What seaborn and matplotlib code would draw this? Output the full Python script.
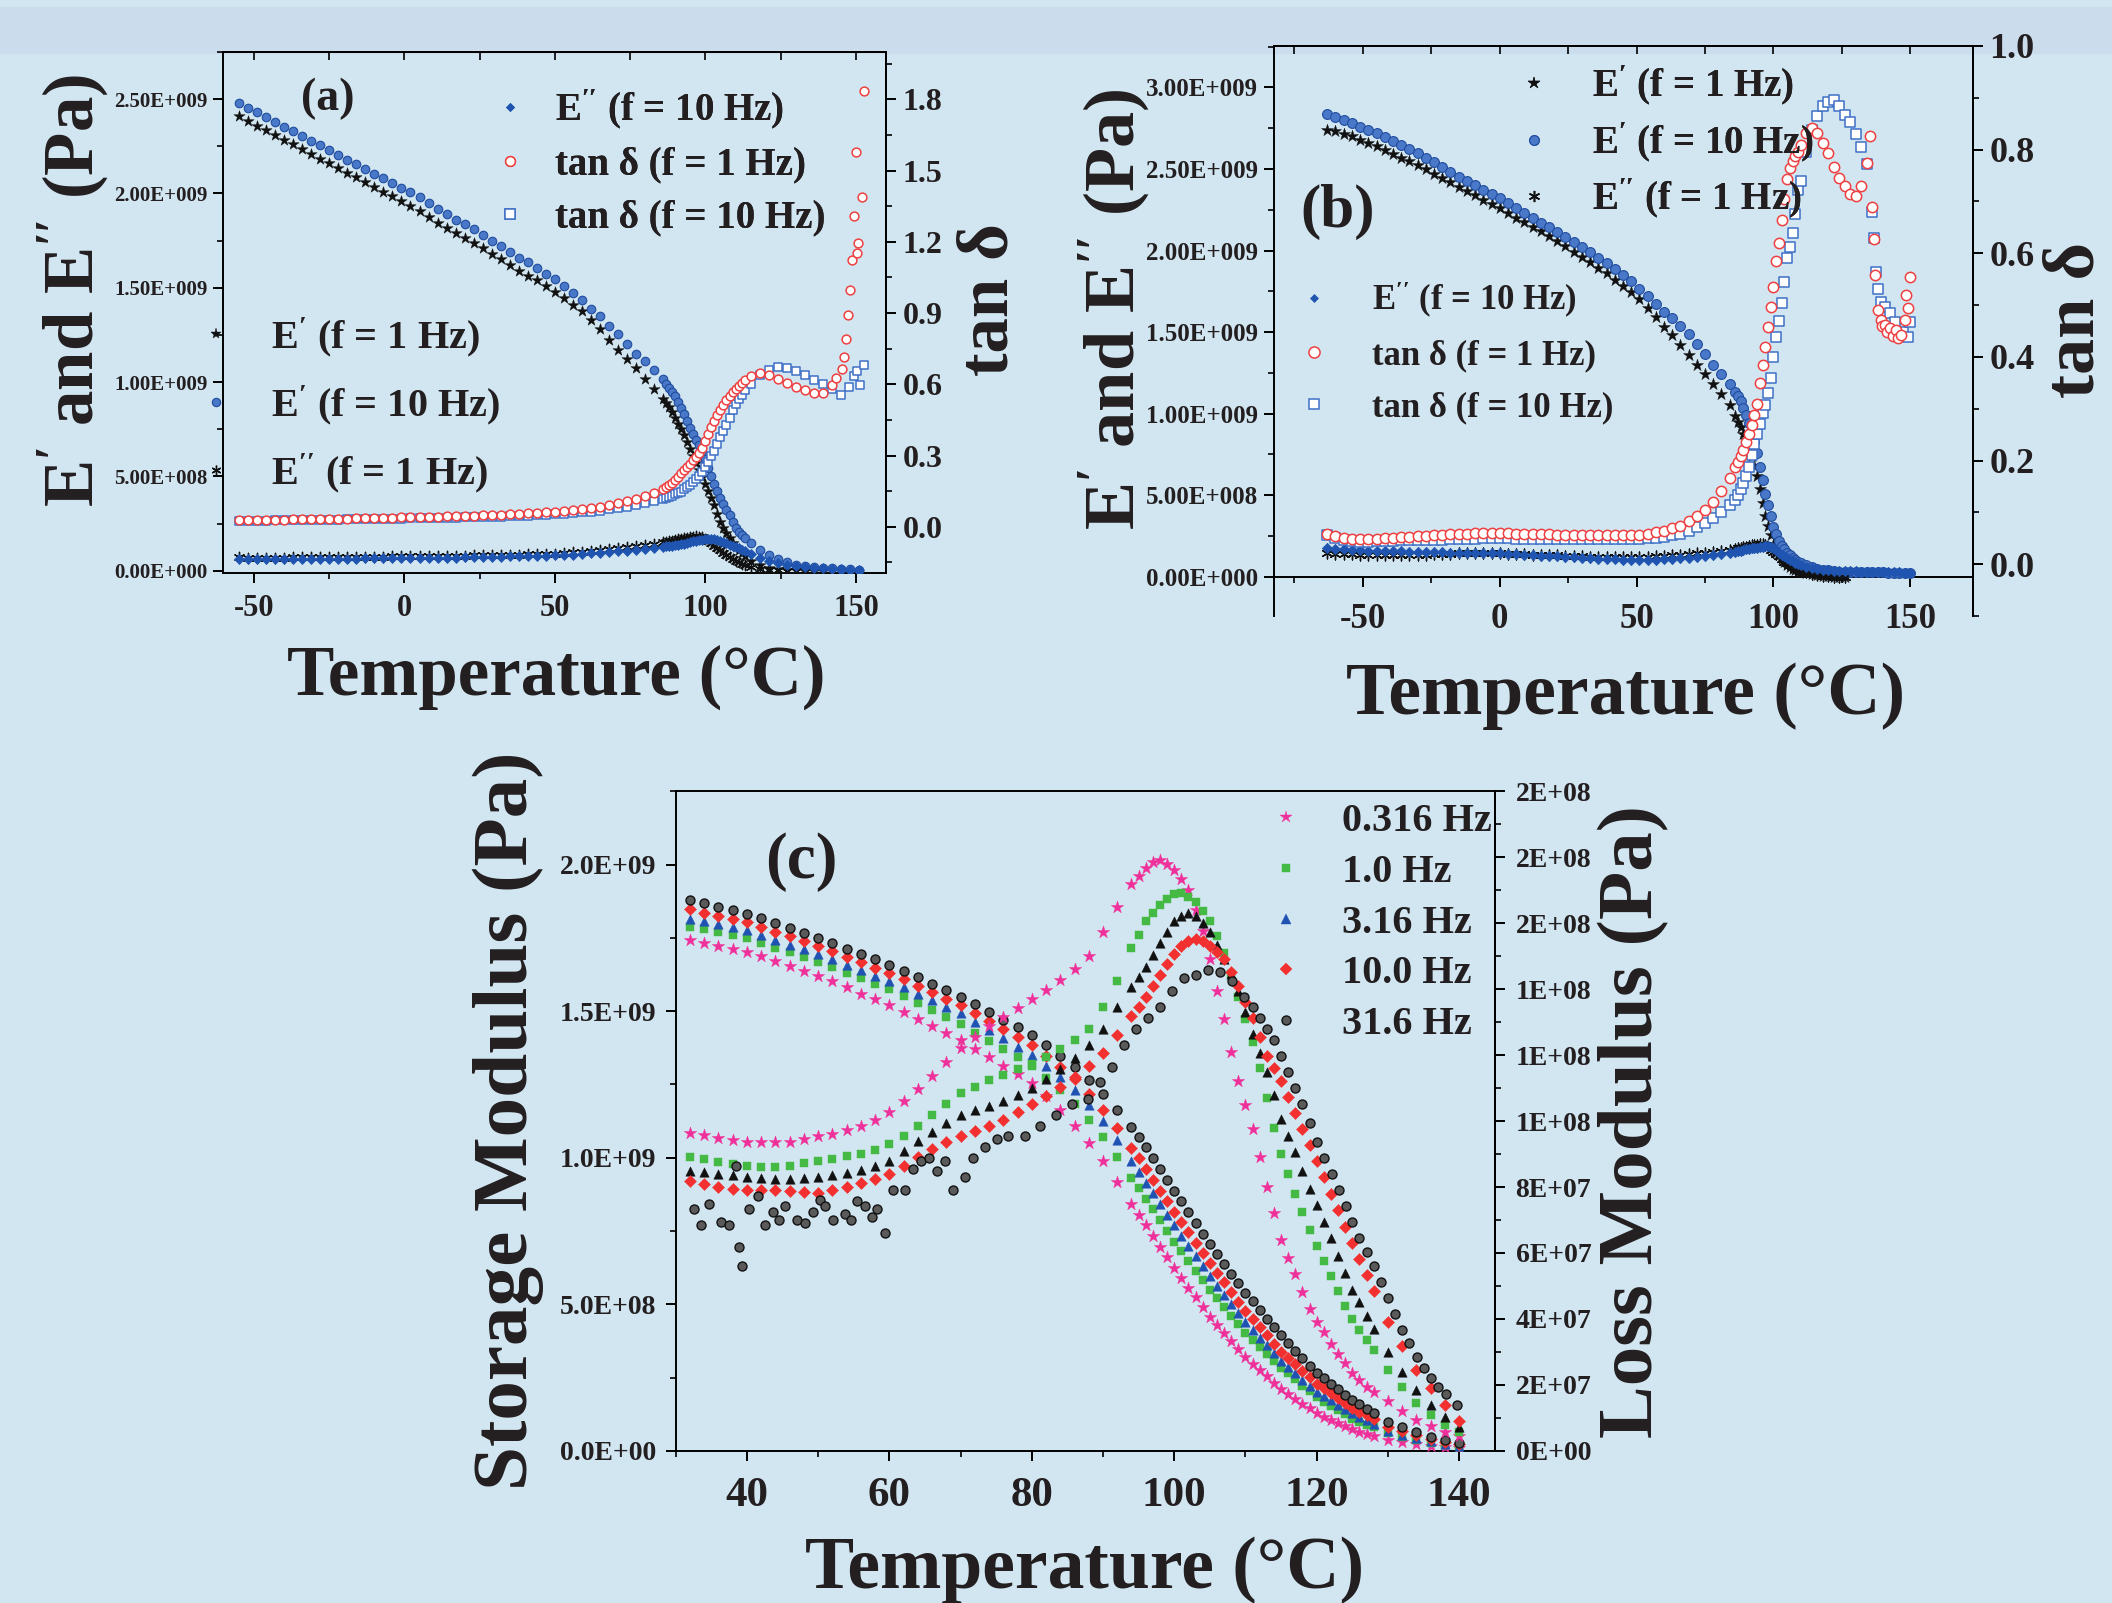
import numpy as np
import matplotlib
matplotlib.use("Agg")
import matplotlib.pyplot as plt
import seaborn as sns
from matplotlib.lines import Line2D
from matplotlib.patches import Rectangle
from matplotlib.ticker import MultipleLocator, FuncFormatter, FormatStrFormatter, NullFormatter, NullLocator

nan = np.nan

# ---------------- panel (a) : temperature (C), moduli in 1e9 Pa, tan delta ----------------
T_a = [-55, -52, -49, -46, -43, -40, -37, -34, -31, -28, -25, -22, -19, -16, -13, -10, -7, -4,
       -1, 2, 5, 8, 11, 14, 17, 20, 23, 26, 29, 32, 35, 38, 41, 44, 47, 50, 53, 56, 59, 62, 65,
       68, 71, 74, 77, 80, 83, 86,
       87, 88, 89, 90, 91, 92, 93, 94, 95, 96, 97, 98, 99, 100, 101, 102, 103, 104, 105, 106,
       107, 108, 109, 110, 111, 112, 113,
       115, 118, 121, 124, 127, 130, 133, 136, 139, 142, 145, 148, 151]

a_E1 = [2.41, 2.385, 2.36, 2.335, 2.31, 2.285, 2.26, 2.235, 2.21, 2.185, 2.16, 2.135, 2.11, 2.085,
        2.06, 2.035, 2.01, 1.985, 1.96, 1.935, 1.905, 1.875, 1.845, 1.815, 1.79, 1.765, 1.74, 1.71,
        1.68, 1.65, 1.62, 1.59, 1.565, 1.54, 1.51, 1.48, 1.445, 1.41, 1.375, 1.33, 1.28, 1.225,
        1.17, 1.12, 1.075, 1.016, 0.965, 0.91,
        0.89, 0.868, 0.84, 0.812, 0.78, 0.75, 0.72, 0.683, 0.645, 0.608, 0.571, 0.534, 0.497,
        0.46, 0.423, 0.386, 0.349, 0.30, 0.256, 0.228, 0.20, 0.172, 0.149, 0.126, 0.11, 0.095, 0.08,
        0.052, 0.03, 0.016, 0.008, 0.004, 0.002, 0.001, 0.0, 0.0, nan, nan, nan, nan]

a_E10 = [2.48, 2.455, 2.43, 2.405, 2.38, 2.355, 2.33, 2.305, 2.28, 2.255, 2.23, 2.205, 2.18, 2.155,
         2.13, 2.105, 2.08, 2.055, 2.03, 2.01, 1.98, 1.95, 1.92, 1.89, 1.86, 1.84, 1.81, 1.78,
         1.75, 1.72, 1.69, 1.66, 1.635, 1.605, 1.575, 1.545, 1.51, 1.475, 1.435, 1.39, 1.35, 1.30,
         1.255, 1.20, 1.15, 1.11, 1.065, 1.015,
         0.99, 0.97, 0.947, 0.924, 0.893, 0.862, 0.83, 0.793, 0.757, 0.726, 0.695, 0.664, 0.627,
         0.59, 0.547, 0.503, 0.46, 0.423, 0.386, 0.355, 0.324, 0.293, 0.26, 0.228, 0.208, 0.19, 0.172,
         0.145, 0.108, 0.083, 0.062, 0.047, 0.033, 0.026, 0.02, 0.016, 0.012, 0.009, 0.007, 0.006]

a_EE1 = [0.072, 0.07, 0.07, 0.07, 0.07, 0.07, 0.071, 0.071, 0.071, 0.072, 0.072, 0.073, 0.073, 0.074,
         0.074, 0.075, 0.075, 0.076, 0.076, 0.077, 0.077, 0.078, 0.078, 0.079, 0.079, 0.08, 0.081,
         0.082, 0.083, 0.084, 0.085, 0.086, 0.087, 0.088, 0.089, 0.09, 0.093, 0.097, 0.10, 0.104,
         0.108, 0.113, 0.118, 0.124, 0.13, 0.136, 0.143, 0.151,
         0.154, 0.157, 0.16, 0.163, 0.166, 0.169, 0.172, 0.175, 0.178, 0.18, 0.182, 0.181, 0.177,
         0.17, 0.16, 0.147, 0.133, 0.12, 0.108, 0.096, 0.085, 0.073, 0.062, 0.052, 0.044, 0.037, 0.03,
         0.02, 0.009, 0.004, 0.002, 0.001, 0.0, 0.0, 0.0, 0.0, nan, nan, nan, nan]

a_EE10 = [0.062, 0.061, 0.061, 0.061, 0.061, 0.061, 0.062, 0.062, 0.062, 0.063, 0.063, 0.063, 0.064,
          0.064, 0.065, 0.065, 0.066, 0.066, 0.067, 0.067, 0.068, 0.068, 0.069, 0.07, 0.07, 0.071,
          0.072, 0.073, 0.074, 0.075, 0.076, 0.077, 0.078, 0.079, 0.08, 0.081, 0.083, 0.086, 0.089,
          0.092, 0.095, 0.099, 0.103, 0.107, 0.111, 0.116, 0.121, 0.127,
          0.129, 0.131, 0.133, 0.135, 0.138, 0.141, 0.144, 0.148, 0.152, 0.155, 0.159, 0.162, 0.165,
          0.167, 0.168, 0.168, 0.167, 0.163, 0.158, 0.152, 0.145, 0.139, 0.132, 0.126, 0.118, 0.111,
          0.103,
          0.089, 0.068, 0.052, 0.04, 0.031, 0.024, 0.019, 0.015, 0.012, 0.009, 0.007, 0.005, 0.004]

a_tan1 = [0.028, 0.028, 0.029, 0.029, 0.03, 0.03, 0.031, 0.031, 0.032, 0.032, 0.033, 0.034, 0.034,
          0.035, 0.036, 0.036, 0.037, 0.038, 0.039, 0.04, 0.041, 0.042, 0.043, 0.044, 0.045, 0.046,
          0.047, 0.048, 0.05, 0.051, 0.053, 0.054, 0.056, 0.058, 0.06, 0.062, 0.065, 0.069, 0.073,
          0.078, 0.084, 0.091, 0.099, 0.108, 0.118, 0.13, 0.144, 0.16,
          0.167, 0.176, 0.186, 0.198, 0.211, 0.225, 0.238, 0.251, 0.264, 0.279, 0.294, 0.31, 0.333,
          0.36, 0.39, 0.42, 0.447, 0.47, 0.492, 0.514, 0.535, 0.552, 0.567, 0.58, 0.594, 0.607, 0.618,
          0.635, 0.646, 0.638, 0.624, 0.607, 0.59, 0.576, 0.565, 0.562, 0.595, nan, nan, nan]
a_tan1_tail_T = [143.5, 145.4, 146.0, 146.6, 147.4, 148.0, 148.7, 149.3, 150.0, 150.5, 150.8, 151.9, 152.8]
a_tan1_tail = [0.625, 0.664, 0.715, 0.789, 0.893, 0.999, 1.125, 1.307, 1.578, 1.152, 1.196, 1.388, 1.835]

a_tan10 = [0.025, 0.025, 0.026, 0.026, 0.027, 0.027, 0.028, 0.028, 0.029, 0.029, 0.03, 0.03, 0.031,
           0.031, 0.032, 0.032, 0.033, 0.033, 0.034, 0.035, 0.035, 0.036, 0.037, 0.038, 0.038, 0.039,
           0.04, 0.041, 0.042, 0.043, 0.044, 0.045, 0.047, 0.048, 0.05, 0.052, 0.054, 0.057, 0.06,
           0.064, 0.068, 0.073, 0.078, 0.084, 0.091, 0.098, 0.107, 0.117,
           0.121, 0.125, 0.13, 0.136, 0.142, 0.148, 0.157, 0.166, 0.175, 0.188, 0.201, 0.215, 0.232,
           0.25, 0.272, 0.296, 0.32, 0.35, 0.38, 0.405, 0.43, 0.46, 0.49, 0.518, 0.538, 0.557, 0.575,
           0.60, 0.64, 0.66, 0.672, 0.67, 0.657, 0.64, 0.62, 0.602, 0.58, nan, nan, nan]
a_tan10_tail_T = [145.0, 147.7, 149.3, 150.5, 151.4, 152.8]
a_tan10_tail = [0.553, 0.59, 0.634, 0.656, 0.597, 0.681]

# ---------------- panel (b) ----------------
T_b = [-63, -60, -57, -54, -51, -48, -45, -42, -39, -36, -33, -30, -27, -24, -21, -18, -15, -12,
       -9, -6, -3, 0, 3, 6, 9, 12, 15, 18, 21, 24, 27, 30, 33, 36, 39, 42, 45, 48, 51, 54, 57, 60,
       63, 66, 69, 72, 75, 78, 81, 84,
       86, 87, 88, 89, 90, 91, 92, 93, 94, 95, 96, 97, 98, 99, 100, 101, 102, 103, 104, 105, 106,
       107, 108, 109, 110,
       112, 114, 116, 118, 120, 122, 124, 126, 128, 130, 132, 134, 136, 138, 140, 142, 144, 146,
       148, 150]

b_E1 = [2.74, 2.73, 2.715, 2.70, 2.68, 2.66, 2.638, 2.615, 2.592, 2.57, 2.548, 2.524, 2.498, 2.472,
        2.445, 2.418, 2.39, 2.364, 2.338, 2.311, 2.285, 2.258, 2.23, 2.202, 2.174, 2.146, 2.118,
        2.09, 2.058, 2.025, 1.993, 1.96, 1.928, 1.895, 1.86, 1.822, 1.785, 1.748, 1.70, 1.648,
        1.59, 1.533, 1.48, 1.42, 1.36, 1.30, 1.24, 1.18, 1.12, 1.05,
        0.985, 0.95, 0.915, 0.877, 0.838, 0.797, 0.74, 0.68, 0.615, 0.54, 0.45, 0.37, 0.31, 0.255,
        0.194, 0.162, 0.133, 0.11, 0.092, 0.072, 0.058, 0.048, 0.04, 0.031, 0.027,
        0.02, 0.014, 0.009, 0.006, 0.003, 0.001, 0.0, 0.0, nan, nan, nan, nan, nan, nan, nan, nan,
        nan, nan, nan, nan]

b_E10 = [2.835, 2.82, 2.80, 2.78, 2.76, 2.74, 2.718, 2.694, 2.67, 2.645, 2.62, 2.595, 2.568, 2.54,
         2.512, 2.483, 2.452, 2.426, 2.40, 2.373, 2.346, 2.32, 2.29, 2.26, 2.23, 2.20, 2.17, 2.143,
         2.112, 2.08, 2.05, 2.02, 1.99, 1.957, 1.922, 1.887, 1.85, 1.812, 1.765, 1.72, 1.672,
         1.624, 1.585, 1.54, 1.49, 1.425, 1.363, 1.30, 1.245, 1.18,
         1.13, 1.105, 1.075, 1.035, 0.99, 0.94, 0.885, 0.826, 0.76, 0.672, 0.59, 0.508, 0.437, 0.37,
         0.306, 0.262, 0.22, 0.19, 0.167, 0.147, 0.13, 0.117, 0.104, 0.092, 0.086,
         0.074, 0.062, 0.05, 0.043, 0.038, 0.034, 0.031, 0.03, 0.029, 0.028, 0.027, 0.027, 0.026,
         0.026, 0.026, 0.025, 0.025, 0.025, 0.025, 0.025]

b_EE1 = [0.143, 0.141, 0.139, 0.137, 0.135, 0.133, 0.133, 0.133, 0.133, 0.133, 0.133, 0.134, 0.136,
         0.138, 0.14, 0.142, 0.143, 0.143, 0.143, 0.143, 0.143, 0.143, 0.141, 0.14, 0.138, 0.136,
         0.134, 0.133, 0.131, 0.129, 0.127, 0.125, 0.123, 0.122, 0.121, 0.12, 0.119, 0.119, 0.119,
         0.121, 0.124, 0.127, 0.13, 0.133, 0.138, 0.143, 0.148, 0.153, 0.159, 0.166,
         0.17, 0.173, 0.176, 0.18, 0.184, 0.188, 0.192, 0.195, 0.197, 0.199, 0.2, 0.192, 0.18, 0.166,
         0.152, 0.138, 0.124, 0.108, 0.093, 0.082, 0.071, 0.061, 0.05, 0.041, 0.036,
         0.027, 0.016, 0.009, 0.005, 0.002, 0.001, 0.0, 0.0, nan, nan, nan, nan, nan, nan, nan, nan,
         nan, nan, nan, nan]

b_EE10 = [0.174, 0.17, 0.167, 0.165, 0.162, 0.16, 0.159, 0.157, 0.156, 0.155, 0.154, 0.153, 0.151,
          0.15, 0.149, 0.148, 0.147, 0.146, 0.145, 0.145, 0.144, 0.143, 0.14, 0.137, 0.135, 0.132,
          0.129, 0.127, 0.124, 0.121, 0.118, 0.115, 0.112, 0.11, 0.108, 0.106, 0.104, 0.103, 0.102,
          0.103, 0.105, 0.107, 0.109, 0.112, 0.116, 0.122, 0.128, 0.134, 0.14, 0.147,
          0.153, 0.157, 0.16, 0.164, 0.167, 0.17, 0.173, 0.176, 0.179, 0.182, 0.184, 0.186, 0.188,
          0.184, 0.175, 0.163, 0.148, 0.136, 0.125, 0.115, 0.105, 0.095, 0.087, 0.08, 0.073,
          0.062, 0.054, 0.048, 0.043, 0.04, 0.037, 0.035, 0.034, 0.033, 0.032, 0.031, 0.03, 0.029,
          0.028, 0.027, 0.027, 0.026, 0.026, 0.025, 0.025]

b_tan1 = [0.059, 0.054, 0.051, 0.049, 0.048, 0.048, 0.049, 0.05, 0.051, 0.052, 0.053, 0.054, 0.055,
          0.056, 0.057, 0.058, 0.059, 0.059, 0.06, 0.06, 0.06, 0.06, 0.06, 0.059, 0.059, 0.059, 0.058,
          0.058, 0.057, 0.057, 0.057, 0.056, 0.056, 0.056, 0.056, 0.056, 0.056, 0.056, 0.057, 0.059,
          0.062, 0.065, 0.069, 0.074, 0.083, 0.093, 0.105, 0.12, 0.141, 0.167,
          0.187, 0.197, 0.208, 0.22, 0.235, 0.252, 0.269, 0.288, 0.31, 0.35, 0.385, 0.42, 0.457,
          0.496, 0.535, 0.585, 0.62, 0.665, 0.705, 0.744, 0.765, 0.778, 0.788, 0.796, 0.808,
          0.833, 0.842, 0.833, 0.812, 0.793, 0.767, 0.746, 0.729, 0.715, 0.71, 0.73, 0.775,
          nan, nan, nan, nan, nan, nan, nan, nan]
b_tan1_tail_T = [135.4, 135.9, 136.7, 137.0, 138.0, 139.2, 139.5, 140.8, 141.5, 142.4, 143.5, 144.9,
                 145.5, 146.5, 148.1, 148.5, 149.0, 149.8]
b_tan1_tail = [0.826, 0.689, 0.627, 0.558, 0.49, 0.471, 0.46, 0.461, 0.448, 0.455, 0.44, 0.452,
               0.437, 0.442, 0.471, 0.519, 0.494, 0.555]

b_tan10 = [0.056, 0.05, 0.046, 0.044, 0.043, 0.043, 0.044, 0.045, 0.045, 0.046, 0.046, 0.046, 0.047,
           0.047, 0.047, 0.048, 0.048, 0.049, 0.049, 0.05, 0.05, 0.05, 0.05, 0.049, 0.049, 0.049,
           0.048, 0.048, 0.048, 0.048, 0.048, 0.048, 0.048, 0.048, 0.048, 0.048, 0.048, 0.048,
           0.049, 0.05, 0.051, 0.053, 0.056, 0.059, 0.065, 0.072, 0.08, 0.089, 0.1, 0.115,
           0.124, 0.134, 0.145, 0.156, 0.17, 0.188, 0.21, 0.232, 0.252, 0.27, 0.292, 0.307, 0.33,
           0.36, 0.40, 0.438, 0.47, 0.505, 0.545, 0.59, 0.612, 0.64, 0.675, 0.722, 0.74,
           0.795, 0.838, 0.865, 0.884, 0.891, 0.895, 0.884, 0.867, 0.853, 0.83, 0.806, 0.772,
           nan, nan, nan, nan, nan, nan, nan, nan]
b_tan10_tail_T = [135.9, 136.7, 137.6, 138.0, 139.2, 140.8, 142.4, 144.5, 147.3, 149.0, 149.8]
b_tan10_tail = [0.68, 0.629, 0.564, 0.532, 0.506, 0.497, 0.484, 0.468, 0.448, 0.439, 0.468]

# ---------------- panel (c) : storage in 1e9 Pa, loss in 1e8 Pa ----------------
T_c = [32, 34, 36, 38, 40, 42, 44, 46, 48, 50, 52, 54, 56, 58, 60, 62, 64, 66, 68, 70, 72, 74, 76,
       78, 80, 82, 84, 86, 88, 90, 92, 94,
       95, 96, 97, 98, 99, 100, 101, 102, 103, 104, 105, 106, 107, 108, 109, 110, 111, 112, 113,
       114, 115, 116, 117, 118, 119, 120, 121, 122, 123, 124, 125, 126, 127, 128,
       130, 132, 134, 136, 138, 140]
freqs = ["0.316 Hz", "1.0 Hz", "3.16 Hz", "10.0 Hz", "31.6 Hz"]

c_S316 = [1.742, 1.733, 1.723, 1.713, 1.703, 1.687, 1.67, 1.654, 1.637, 1.621, 1.601, 1.581, 1.56,
          1.54, 1.52, 1.496, 1.472, 1.449, 1.425, 1.401, 1.372, 1.343, 1.313, 1.284, 1.255, 1.21,
          1.163, 1.109, 1.05, 0.989, 0.917, 0.843,
          0.806, 0.769, 0.733, 0.696, 0.66, 0.623, 0.59, 0.557, 0.524, 0.491, 0.458, 0.43, 0.403,
          0.375, 0.348, 0.32, 0.298, 0.276, 0.255, 0.233, 0.211, 0.194, 0.178, 0.161, 0.145, 0.128,
          0.117, 0.106, 0.095, 0.084, 0.073, 0.066, 0.059, 0.051,
          0.037, 0.029, 0.022, 0.016, 0.012, 0.009]
c_S1 = [1.788, 1.779, 1.769, 1.759, 1.749, 1.733, 1.716, 1.7, 1.683, 1.667, 1.649, 1.63, 1.612,
        1.593, 1.575, 1.551, 1.527, 1.504, 1.48, 1.456, 1.427, 1.399, 1.37, 1.342, 1.313, 1.273,
        1.232, 1.184, 1.13, 1.071, 1.004, 0.932,
        0.897, 0.86, 0.824, 0.787, 0.751, 0.714, 0.681, 0.648, 0.615, 0.582, 0.549, 0.52, 0.491,
        0.461, 0.432, 0.403, 0.379, 0.355, 0.332, 0.308, 0.284, 0.264, 0.244, 0.223, 0.203, 0.183,
        0.168, 0.154, 0.139, 0.125, 0.11, 0.1, 0.09, 0.08,
        0.06, 0.048, 0.037, 0.028, 0.021, 0.014]
c_S3 = [1.815, 1.806, 1.796, 1.787, 1.777, 1.76, 1.744, 1.727, 1.711, 1.694, 1.676, 1.658, 1.639,
        1.621, 1.603, 1.581, 1.559, 1.537, 1.515, 1.493, 1.464, 1.436, 1.407, 1.379, 1.35, 1.312,
        1.274, 1.231, 1.18, 1.126, 1.06, 0.988,
        0.952, 0.915, 0.879, 0.842, 0.806, 0.769, 0.734, 0.699, 0.665, 0.63, 0.595, 0.564, 0.533,
        0.502, 0.471, 0.44, 0.413, 0.386, 0.36, 0.333, 0.306, 0.285, 0.264, 0.243, 0.222, 0.201,
        0.186, 0.172, 0.157, 0.143, 0.128, 0.116, 0.104, 0.092,
        0.068, 0.055, 0.043, 0.033, 0.025, 0.017]
c_S10 = [1.847, 1.836, 1.826, 1.815, 1.804, 1.788, 1.771, 1.755, 1.738, 1.722, 1.704, 1.685, 1.667,
         1.648, 1.63, 1.608, 1.586, 1.564, 1.542, 1.52, 1.493, 1.465, 1.438, 1.41, 1.383, 1.346,
         1.309, 1.268, 1.218, 1.163, 1.10, 1.033,
         0.998, 0.961, 0.925, 0.888, 0.852, 0.815, 0.78, 0.745, 0.71, 0.676, 0.641, 0.608, 0.575,
         0.542, 0.509, 0.476, 0.449, 0.421, 0.394, 0.366, 0.339, 0.317, 0.295, 0.273, 0.251, 0.229,
         0.213, 0.196, 0.18, 0.163, 0.147, 0.134, 0.121, 0.108,
         0.082, 0.068, 0.053, 0.04, 0.03, 0.023]
c_S31 = [1.88, 1.868, 1.856, 1.844, 1.832, 1.816, 1.799, 1.783, 1.766, 1.749, 1.731, 1.713, 1.695,
         1.677, 1.658, 1.637, 1.615, 1.593, 1.571, 1.548, 1.523, 1.497, 1.471, 1.445, 1.419, 1.384,
         1.347, 1.308, 1.264, 1.218, 1.162, 1.104,
         1.071, 1.036, 0.999, 0.962, 0.925, 0.888, 0.851, 0.814, 0.778, 0.741, 0.705, 0.671, 0.638,
         0.605, 0.572, 0.54, 0.51, 0.481, 0.451, 0.422, 0.394, 0.368, 0.342, 0.317, 0.291, 0.266,
         0.247, 0.229, 0.21, 0.192, 0.174, 0.159, 0.144, 0.13,
         0.10, 0.081, 0.063, 0.048, 0.036, 0.026]

c_L316 = [0.965, 0.957, 0.95, 0.943, 0.937, 0.935, 0.935, 0.938, 0.945, 0.954, 0.962, 0.972, 0.985,
          1.003, 1.027, 1.06, 1.097, 1.138, 1.18, 1.222, 1.256, 1.289, 1.316, 1.343, 1.369, 1.398,
          1.428, 1.46, 1.50, 1.573, 1.65, 1.718,
          1.744, 1.768, 1.785, 1.79, 1.78, 1.762, 1.735, 1.70, 1.64, 1.575, 1.49, 1.395, 1.31, 1.21,
          1.12, 1.05, 0.975, 0.89, 0.80, 0.72, 0.64, 0.585, 0.535, 0.483, 0.43, 0.39, 0.36, 0.325,
          0.295, 0.265, 0.236, 0.215, 0.195, 0.178,
          0.15, 0.12, 0.095, 0.075, 0.058, 0.045]
c_L1 = [0.89, 0.884, 0.877, 0.87, 0.864, 0.862, 0.862, 0.865, 0.872, 0.88, 0.886, 0.893, 0.901,
        0.913, 0.929, 0.955, 0.985, 1.018, 1.052, 1.084, 1.104, 1.123, 1.141, 1.158, 1.174, 1.195,
        1.218, 1.245, 1.28, 1.345, 1.426, 1.524,
        1.565, 1.605, 1.63, 1.654, 1.672, 1.687, 1.69, 1.68, 1.663, 1.636, 1.605, 1.56, 1.508,
        1.445, 1.377, 1.31, 1.24, 1.16, 1.07, 0.98, 0.90, 0.84, 0.78, 0.725, 0.67, 0.62, 0.575,
        0.53, 0.485, 0.44, 0.40, 0.368, 0.336, 0.305,
        0.245, 0.195, 0.145, 0.11, 0.08, 0.058]
c_L3 = [0.85, 0.845, 0.84, 0.835, 0.831, 0.827, 0.824, 0.824, 0.827, 0.831, 0.837, 0.844, 0.852,
        0.864, 0.88, 0.91, 0.94, 0.966, 0.993, 1.019, 1.032, 1.045, 1.06, 1.08, 1.10, 1.128, 1.157,
        1.19, 1.231, 1.28, 1.345, 1.405,
        1.436, 1.467, 1.503, 1.54, 1.573, 1.605, 1.622, 1.63, 1.622, 1.6, 1.573, 1.535, 1.491,
        1.445, 1.394, 1.33, 1.263, 1.206, 1.149, 1.08, 1.005, 0.955, 0.905, 0.85, 0.795, 0.745,
        0.695, 0.645, 0.59, 0.54, 0.489, 0.45, 0.41, 0.37,
        0.30, 0.24, 0.185, 0.14, 0.103, 0.072]
c_L10 = [0.817, 0.808, 0.8, 0.794, 0.79, 0.79, 0.79, 0.788, 0.785, 0.782, 0.79, 0.8, 0.812, 0.824,
         0.839, 0.865, 0.89, 0.915, 0.935, 0.954, 0.97, 0.986, 1.004, 1.027, 1.051, 1.077, 1.104,
         1.133, 1.166, 1.206, 1.26, 1.318,
         1.347, 1.377, 1.41, 1.443, 1.475, 1.505, 1.532, 1.545, 1.552, 1.545, 1.532, 1.513, 1.491,
         1.452, 1.41, 1.362, 1.312, 1.255, 1.198, 1.16, 1.12, 1.072, 1.024, 0.976, 0.928, 0.88,
         0.83, 0.78, 0.73, 0.68, 0.63, 0.582, 0.534, 0.486,
         0.39, 0.318, 0.246, 0.19, 0.14, 0.09]
c_L31_T = [32.5, 33.6, 34.7, 36.4, 37.5, 38.4, 38.9, 39.3, 40.3, 41.5, 42.6, 43.7, 44.5, 45.4, 47.1,
           48.2, 49.3, 50.2, 51.0, 52.1, 53.8, 54.6, 55.5, 56.6, 57.5, 58.3, 59.4, 60.5, 62.2, 63.3,
           64.4, 65.5, 66.7, 67.8, 68.9, 70.6, 71.7, 73.4, 75.1, 76.7, 79.0, 81.2, 83.4, 85.7, 87.9,
           89.6, 91.3, 93.0, 94.6, 96.3, 98.0, 99.7, 101.4, 103.0, 104.7, 106.4, 108.1, 109.8,
           111.0, 112.0, 113.0, 114.0, 115.0, 116.0, 117.0, 118.0, 119.0, 120.1, 121.1, 122.1,
           123.1, 124.1, 125.0, 126.0, 127.0, 128.0, 129.0, 130.0, 131.0, 132.0, 133.0, 134.1,
           135.1, 136.1, 137.1, 138.1, 139.7]
c_L31 = [0.733, 0.685, 0.75, 0.693, 0.685, 0.864, 0.619, 0.562, 0.733, 0.774, 0.685, 0.725, 0.70,
         0.742, 0.70, 0.69, 0.725, 0.76, 0.742, 0.70, 0.717, 0.70, 0.758, 0.742, 0.71, 0.733, 0.66,
         0.79, 0.79, 0.856, 0.88, 0.888, 0.848, 0.88, 0.79, 0.831, 0.888, 0.921, 0.945, 0.954,
         0.954, 0.986, 1.019, 1.051, 1.068, 1.117, 1.165, 1.231, 1.28, 1.312, 1.345, 1.394, 1.434,
         1.443, 1.459, 1.451, 1.426, 1.377, 1.345, 1.312, 1.28, 1.247, 1.198, 1.149, 1.10, 1.051,
         0.994, 0.937, 0.888, 0.839, 0.79, 0.742, 0.693, 0.644, 0.603, 0.562, 0.513, 0.465, 0.416,
         0.367, 0.326, 0.285, 0.252, 0.22, 0.195, 0.171, 0.139]

for name, xs, ys in [("a_E1", T_a, a_E1), ("a_E10", T_a, a_E10), ("a_EE1", T_a, a_EE1),
                     ("a_EE10", T_a, a_EE10), ("a_tan1", T_a, a_tan1), ("a_tan10", T_a, a_tan10),
                     ("b_E1", T_b, b_E1), ("b_E10", T_b, b_E10), ("b_EE1", T_b, b_EE1),
                     ("b_EE10", T_b, b_EE10), ("b_tan1", T_b, b_tan1), ("b_tan10", T_b, b_tan10),
                     ("c_S316", T_c, c_S316), ("c_S1", T_c, c_S1), ("c_S3", T_c, c_S3),
                     ("c_S10", T_c, c_S10), ("c_S31", T_c, c_S31), ("c_L316", T_c, c_L316),
                     ("c_L1", T_c, c_L1), ("c_L3", T_c, c_L3), ("c_L10", T_c, c_L10),
                     ("c_L31", c_L31_T, c_L31)]:
    assert len(xs) == len(ys), (name, len(xs), len(ys))

# ---------------- style ----------------
sns.set_style("ticks")
INK = "#231f20"
BG = "#d2e6f2"
BAND = "#cbdcec"
plt.rcParams.update({
    "font.family": ["Liberation Serif", "DejaVu Serif"],
    "font.weight": "bold",
    "mathtext.fontset": "custom",
    "mathtext.rm": "Liberation Serif:bold",
    "mathtext.it": "Liberation Serif:italic:bold",
    "mathtext.bf": "Liberation Serif:bold",
    "axes.unicode_minus": False,
    "text.color": INK,
    "xtick.color": "black",
    "ytick.color": "black",
    "xtick.labelcolor": INK,
    "ytick.labelcolor": INK,
    "axes.edgecolor": "black",
    "axes.linewidth": 1.4,
})

BLACK = "#111111"
BLUE_E = dict(marker="o", color="#4a78c8", edgecolor="#1f4c9e", linewidth=0.8)
STAR = dict(marker="*", color=BLACK, edgecolor=BLACK, linewidth=0.3)
ASTER = dict(marker=(6, 2, 0), color=BLACK, linewidth=1.0)
BLUE_EE = dict(marker="D", color="#1f55b0", edgecolor="#1f55b0", linewidth=0.5)
RED_O = dict(marker="o", color="white", edgecolor="#ee4040", linewidth=1.1)
BLUE_SQ = dict(marker="s", color="white", edgecolor="#3e70c6", linewidth=1.1)

C_PINK = dict(marker="*", color="#f0309a", edgecolor="#f0309a", linewidth=0.3)
C_GREEN = dict(marker="s", color="#44b944", edgecolor="#44b944", linewidth=0.3)
C_BLUE = dict(marker="^", color="#1f52b3", edgecolor="#1f52b3", linewidth=0.3)
C_BLACKTRI = dict(marker="^", color=BLACK, edgecolor=BLACK, linewidth=0.3)
C_RED = dict(marker="D", color="#f23030", edgecolor="#f23030", linewidth=0.3)
C_SPHERE = dict(marker="o", color="#5a5a5a", edgecolor=BLACK, linewidth=1.0)


def dots(ax, x, y, st, s, scale=1.0):
    sns.scatterplot(x=np.asarray(x, float), y=np.asarray(y, float) * scale, ax=ax,
                    s=s, legend=False, zorder=3, **st)


def proxy(st, ms):
    return Line2D([], [], ls="none", marker=st["marker"], ms=ms, mfc=st["color"],
                  mec=st.get("edgecolor", st["color"]), mew=st.get("linewidth", 1.0))


def origin_sci(v, pos):
    mant, ex = f"{v:.2E}".split("E")
    return f"{mant}E{ex[0]}{int(ex[1:]):03d}"


W, H = 2112, 1603
fig = plt.figure(figsize=(W / 100, H / 100), dpi=100, facecolor=BG)


def fx(x):
    return x / W


def fy(y):
    return 1 - y / H


def rect(l, t, r, b):
    return [fx(l), fy(b), fx(r) - fx(l), fy(t) - fy(b)]


fig.add_artist(Rectangle((0, fy(53)), 1, fy(7) - fy(53), transform=fig.transFigure,
                         color=BAND, zorder=-5))

EP1 = "E$^{\\prime}$ (f = 1 Hz)"
EP10 = "E$^{\\prime}$ (f = 10 Hz)"
EPP1 = "E$^{\\prime\\prime}$ (f = 1 Hz)"
EPP10 = "E$^{\\prime\\prime}$ (f = 10 Hz)"
TAN1 = "tan δ (f = 1 Hz)"
TAN10 = "tan δ (f = 10 Hz)"
YL_AB = "E$^{\\prime}$ and E$^{\\prime\\prime}$ (Pa)"


def legend_at(ax, handles, labels, x0, yc, fs, pad, spacing):
    leg = ax.legend(handles, labels, loc="center left", bbox_to_anchor=(fx(x0), fy(yc)),
                    bbox_transform=fig.transFigure, frameon=False, fontsize=fs,
                    handlelength=1.0, handletextpad=pad, labelspacing=spacing,
                    borderpad=0, borderaxespad=0, numpoints=1)
    for t in leg.get_texts():
        t.set_color(INK)
    return leg


def frame_ticks(ax, ax2, xfs, yfs, rfs, xpad, ypad, rpad):
    ax.tick_params(axis="both", which="major", direction="out", length=7, width=1.4)
    ax.tick_params(axis="both", which="minor", direction="out", length=4, width=1.2)
    ax.tick_params(axis="x", labelsize=xfs, pad=xpad)
    ax.tick_params(axis="y", labelsize=yfs, pad=ypad)
    ax2.tick_params(axis="y", which="major", direction="out", length=7, width=1.4,
                    labelsize=rfs, pad=rpad)
    ax2.tick_params(axis="y", which="minor", direction="out", length=4, width=1.2)
    for side in ["left", "top", "bottom"]:
        ax2.spines[side].set_visible(False)
    ax2.set_facecolor("none")
    ax.set_facecolor("none")


def top_inward(ax, step):
    sec = ax.secondary_xaxis("top")
    sec.xaxis.set_major_locator(MultipleLocator(step))
    sec.xaxis.set_minor_locator(NullLocator())
    sec.xaxis.set_major_formatter(NullFormatter())
    sec.tick_params(axis="x", which="major", direction="in", length=6, width=1.2)


# ================= panel (a) =================
ax = fig.add_axes(rect(223, 52, 886, 573))
ax2 = ax.twinx()
dots(ax, T_a, a_E1, STAR, 72, 1e9)
dots(ax, T_a, a_E10, BLUE_E, 38, 1e9)
dots(ax, T_a, a_EE1, ASTER, 55, 1e9)
dots(ax, T_a, a_EE10, BLUE_EE, 26, 1e9)
dots(ax2, T_a, a_tan10, BLUE_SQ, 34)
dots(ax2, a_tan10_tail_T, a_tan10_tail, BLUE_SQ, 34)
dots(ax2, T_a, a_tan1, RED_O, 40)
dots(ax2, a_tan1_tail_T, a_tan1_tail, RED_O, 40)

ax.set_xlim(-60.3, 160)
ax.set_ylim(-0.012e9, 2.75e9)
ax2.set_ylim(-0.195, 2.0)
ax.xaxis.set_major_locator(MultipleLocator(50))
ax.xaxis.set_minor_locator(MultipleLocator(25))
ax.yaxis.set_major_locator(MultipleLocator(0.5e9))
ax.yaxis.set_minor_locator(MultipleLocator(0.25e9))
ax.yaxis.set_major_formatter(FuncFormatter(origin_sci))
ax2.yaxis.set_major_locator(MultipleLocator(0.3))
ax2.yaxis.set_minor_locator(MultipleLocator(0.15))
ax2.yaxis.set_major_formatter(FormatStrFormatter("%.1f"))
ax.set_xlabel("")
ax.set_ylabel("")
ax2.set_ylabel("")
frame_ticks(ax, ax2, 22, 15, 23, 8, 4, 5)
top_inward(ax, 25)

legend_at(ax2, [proxy(BLUE_EE, 4), proxy(RED_O, 7), proxy(BLUE_SQ, 6.5)],
          [EPP10, TAN1, TAN10], 490.6, 162, 28, 0.66, 0.4)
leg_a2 = ax2.get_legend()
legend_at(ax, [proxy(STAR, 8), proxy(BLUE_E, 6), proxy(ASTER, 7)],
          [EP1, EP10, EPP1], 196, 405, 29, 0.87, 0.6)
ax2.add_artist(leg_a2)
ax2.text(fx(328), fy(99), "(a)", transform=fig.transFigure, fontsize=33,
         ha="center", va="center", color=INK)
fig.text(fx(556), fy(677), "Temperature (°C)", fontsize=51, ha="center", va="center")
fig.text(fx(73), fy(290), YL_AB, fontsize=51, ha="center", va="center", rotation=90)
fig.text(fx(990), fy(300), "tan δ", fontsize=51, ha="center", va="center", rotation=90)

# ================= panel (b) =================
ax = fig.add_axes(rect(1273.6, 46, 1972.8, 616))
ax2 = ax.twinx()
dots(ax, T_b, b_E1, STAR, 82, 1e9)
dots(ax, T_b, b_E10, BLUE_E, 50, 1e9)
dots(ax, T_b, b_EE1, ASTER, 60, 1e9)
dots(ax, T_b, b_EE10, BLUE_EE, 28, 1e9)
dots(ax2, T_b, b_tan10, BLUE_SQ, 45)
dots(ax2, b_tan10_tail_T, b_tan10_tail, BLUE_SQ, 45)
dots(ax2, T_b, b_tan1, RED_O, 55)
dots(ax2, b_tan1_tail_T, b_tan1_tail, RED_O, 55)

ax.set_xlim(-82.6, 172.8)
ax.set_ylim(-0.241e9, 3.254e9)
ax2.set_ylim(-0.1, 1.0)
ax.spines["bottom"].set_position(("data", 0))
ax.xaxis.set_major_locator(MultipleLocator(50))
ax.xaxis.set_minor_locator(MultipleLocator(25))
ax.yaxis.set_major_locator(MultipleLocator(0.5e9))
ax.yaxis.set_minor_locator(MultipleLocator(0.25e9))
ax.yaxis.set_major_formatter(FuncFormatter(origin_sci))
ax2.yaxis.set_major_locator(MultipleLocator(0.2))
ax2.yaxis.set_minor_locator(MultipleLocator(0.1))
ax2.yaxis.set_major_formatter(FormatStrFormatter("%.1f"))
ax.set_xlabel("")
ax.set_ylabel("")
ax2.set_ylabel("")
frame_ticks(ax, ax2, 25, 18, 26, 12, 4, 5)
top_inward(ax, 25)

legend_at(ax2, [proxy(STAR, 9), proxy(BLUE_E, 7), proxy(ASTER, 8)],
          [EP1, EP10, EPP1], 1514.6, 142, 28, 0.99, 0.33)
leg_b2 = ax2.get_legend()
legend_at(ax, [proxy(BLUE_EE, 4), proxy(RED_O, 8), proxy(BLUE_SQ, 7)],
          [EPP10, TAN1, TAN10], 1296.6, 352, 25, 1.17, 0.56)
ax2.add_artist(leg_b2)
ax2.text(fx(1338), fy(212), "(b)", transform=fig.transFigure, fontsize=44,
         ha="center", va="center", color=INK)
fig.text(fx(1626), fy(696), "Temperature (°C)", fontsize=53, ha="center", va="center")
fig.text(fx(1114), fy(309), YL_AB, fontsize=52, ha="center", va="center", rotation=90)
fig.text(fx(2076), fy(320), "tan δ", fontsize=52, ha="center", va="center", rotation=90)

# ================= panel (c) =================
ax = fig.add_axes(rect(675.7, 791.2, 1494.7, 1450.9))
ax2 = ax.twinx()
dots(ax, T_c, c_S316, C_PINK, 88, 1e9)
dots(ax, T_c, c_S1, C_GREEN, 36, 1e9)
dots(ax, T_c, c_S3, C_BLUE, 46, 1e9)
dots(ax, T_c, c_S10, C_RED, 38, 1e9)
dots(ax, T_c, c_S31, C_SPHERE, 42, 1e9)
dots(ax2, T_c, c_L316, C_PINK, 88, 1e8)
dots(ax2, T_c, c_L1, C_GREEN, 36, 1e8)
dots(ax2, T_c, c_L3, C_BLACKTRI, 46, 1e8)
dots(ax2, T_c, c_L10, C_RED, 38, 1e8)
dots(ax2, c_L31_T, c_L31, C_SPHERE, 42, 1e8)

ax.set_xlim(30, 145)
ax.set_ylim(0, 2.25e9)
ax2.set_ylim(0, 2e8)
ax.xaxis.set_major_locator(MultipleLocator(20))
ax.xaxis.set_minor_locator(MultipleLocator(10))
ax.yaxis.set_major_locator(MultipleLocator(0.5e9))
ax.yaxis.set_minor_locator(MultipleLocator(0.25e9))
ax.yaxis.set_major_formatter(FormatStrFormatter("%.1E"))
ax2.yaxis.set_major_locator(MultipleLocator(2e7))
ax2.yaxis.set_minor_locator(MultipleLocator(1e7))
ax2.yaxis.set_major_formatter(FormatStrFormatter("%.0E"))
ax.set_xlabel("")
ax.set_ylabel("")
ax2.set_ylabel("")
frame_ticks(ax, ax2, 31, 20, 20, 12, 7, 8)

legend_at(ax2, [proxy(C_PINK, 9), proxy(C_GREEN, 6), proxy(C_BLUE, 7), proxy(C_RED, 6.5),
                proxy(C_SPHERE, 6.5)], freqs, 1265.9, 923, 29, 0.88, 0.34)
ax2.text(fx(801), fy(862), "(c)", transform=fig.transFigure, fontsize=47,
         ha="center", va="center", color=INK)
fig.text(fx(1085), fy(1570), "Temperature (°C)", fontsize=53, ha="center", va="center")
fig.text(fx(508), fy(1121), "Storage Modulus (Pa)", fontsize=57, ha="center", va="center",
         rotation=90)
fig.text(fx(1634), fy(1121), "Loss Modulus (Pa)", fontsize=57, ha="center", va="center",
         rotation=90)

fig.savefig("out.png", dpi=100, facecolor=BG)
